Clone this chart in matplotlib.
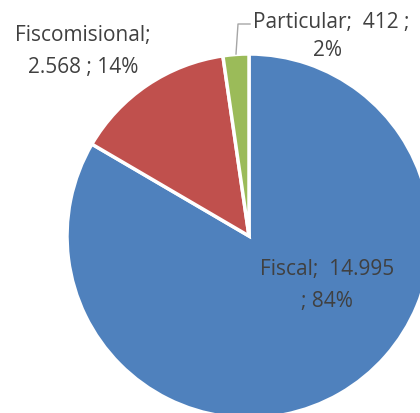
import matplotlib.pyplot as plt

categories = ['Fiscal', 'Fiscomisional', 'Particular']
values = [14995, 2568, 412]
value_labels = ['14.995', '2.568', '412']
percents = ['84%', '14%', '2%']
colors = ['#4F81BD', '#C0504D', '#9BBB59']

W, H = 420, 414
fig = plt.figure(figsize=(W / 100, H / 100), dpi=100)
ax = fig.add_axes([0, 0, 1, 1])
ax.set_xlim(0, W)
ax.set_ylim(0, H)
ax.set_aspect('equal')
ax.axis('off')

cx, cy, r = 249, H - 237, 182
ax.pie(values, colors=colors, startangle=90, counterclock=False,
       center=(cx, cy), radius=r,
       wedgeprops=dict(edgecolor='white', linewidth=2.5))
ax.set_xlim(0, W)
ax.set_ylim(0, H)

tc = '#404040'
fs = 15
fam = ['Open Sans', 'DejaVu Sans']

# Fiscal (inside)
ax.text(327, H - 270, f'{categories[0]};  {value_labels[0]}', ha='center', va='center',
        fontsize=fs, color=tc, family=fam)
ax.text(327, H - 302, f'; {percents[0]}', ha='center', va='center',
        fontsize=fs, color=tc, family=fam)

# Fiscomisional (outside left)
ax.text(83, H - 35, f'{categories[1]};', ha='center', va='center',
        fontsize=fs, color=tc, family=fam)
ax.text(83, H - 67, f'{value_labels[1]} ; {percents[1]}', ha='center', va='center',
        fontsize=fs, color=tc, family=fam)

# Particular (outside top with leader line)
ax.plot([236, 238, 250], [H - 55, H - 25, H - 25], color='#A6A6A6', lw=1)
ax.text(253, H - 22, f'{categories[2]};  {value_labels[2]} ;', ha='left', va='center',
        fontsize=fs, color=tc, family=fam)
ax.text(327, H - 50, percents[2], ha='center', va='center',
        fontsize=fs, color=tc, family=fam)

fig.savefig('out.png', dpi=100)
